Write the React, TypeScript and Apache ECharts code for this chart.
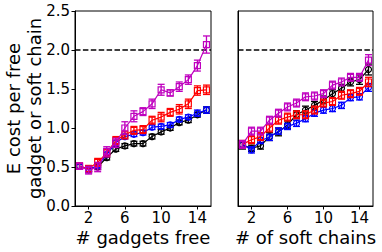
import React, { useEffect, useRef } from "react";
import * as echarts from "echarts";

const xs = [1, 2, 3, 4, 5, 6, 7, 8, 9, 10, 11, 12, 13, 14, 15];
const xTicks = [2, 6, 10, 14];

// left panel: # gadgets free
const leftBlack = [0.51, 0.47, 0.5, 0.62, 0.73, 0.77, 0.8, 0.8, 0.89, 0.95, 1.0, 1.07, 1.1, 1.17, 1.23];
const leftBlue = [0.51, 0.47, 0.52, 0.66, 0.81, 0.89, 0.92, 0.94, 1.01, 1.02, 1.04, 1.11, 1.14, 1.19, 1.23];
const leftRed = [0.51, 0.48, 0.56, 0.68, 0.84, 0.91, 0.97, 0.98, 1.1, 1.14, 1.2, 1.24, 1.31, 1.48, 1.49];
const leftMag = [0.51, 0.46, 0.5, 0.7, 0.81, 1.0, 1.15, 1.21, 1.31, 1.49, 1.45, 1.53, 1.62, 1.8, 2.07];
const leftBlackErr = [0.03, 0.03, 0.03, 0.03, 0.03, 0.03, 0.03, 0.03, 0.03, 0.03, 0.03, 0.03, 0.03, 0.03, 0.04];
const leftBlueErr = [0.03, 0.03, 0.03, 0.03, 0.03, 0.03, 0.03, 0.03, 0.03, 0.03, 0.03, 0.03, 0.03, 0.04, 0.04];
const leftRedErr = [0.04, 0.04, 0.05, 0.05, 0.05, 0.05, 0.05, 0.05, 0.05, 0.06, 0.05, 0.06, 0.06, 0.06, 0.06];
const leftMagErr = [0.04, 0.05, 0.06, 0.06, 0.06, 0.08, 0.07, 0.05, 0.06, 0.07, 0.04, 0.06, 0.06, 0.07, 0.11];

// right panel: # of soft chains
const rightBlack = [0.78, 0.74, 0.77, 0.89, 0.95, 1.04, 1.17, 1.23, 1.29, 1.36, 1.44, 1.51, 1.59, 1.62, 1.75];
const rightBlue = [0.79, 0.72, 0.84, 0.88, 0.96, 1.02, 1.06, 1.12, 1.19, 1.23, 1.25, 1.29, 1.39, 1.4, 1.52];
const rightRed = [0.79, 0.85, 0.89, 1.0, 1.1, 1.14, 1.17, 1.17, 1.23, 1.32, 1.34, 1.42, 1.44, 1.47, 1.59];
const rightMag = [0.79, 0.96, 0.96, 1.1, 1.19, 1.27, 1.32, 1.4, 1.41, 1.44, 1.55, 1.59, 1.65, 1.65, 1.87];
const rightBlackErr = [0.05, 0.04, 0.04, 0.05, 0.05, 0.05, 0.05, 0.05, 0.05, 0.05, 0.05, 0.05, 0.05, 0.06, 0.07];
const rightBlueErr = [0.04, 0.04, 0.04, 0.04, 0.04, 0.04, 0.04, 0.04, 0.04, 0.04, 0.04, 0.04, 0.04, 0.04, 0.05];
const rightRedErr = [0.05, 0.05, 0.05, 0.05, 0.05, 0.05, 0.05, 0.05, 0.05, 0.05, 0.05, 0.05, 0.05, 0.05, 0.06];
const rightMagErr = [0.05, 0.05, 0.05, 0.05, 0.05, 0.05, 0.05, 0.05, 0.05, 0.05, 0.05, 0.05, 0.05, 0.05, 0.07];

const threshold = 2.0;
const labelLeft = "# gadgets free";
const labelRight = "# of soft chains";
const yLabel = "E cost per free\ngadget or soft chain";

const BLACK = "#000000";
const BLUE = "#0000ff";
const RED = "#ff0000";
const MAG = "#bf00bf";
const FONT = "DejaVu Sans";

function lineSeries(vals: number[], color: string, symbol: string, gi: number, z: number) {
  return {
    type: "line",
    xAxisIndex: gi,
    yAxisIndex: gi,
    data: xs.map((x, i) => [x, vals[i]]),
    symbol,
    symbolSize: 6,
    showSymbol: true,
    lineStyle: { color, width: 1.2 },
    itemStyle: { color: "rgba(0,0,0,0)", borderColor: color, borderWidth: 1.2 },
    z,
    silent: true,
  };
}

function errSeries(vals: number[], errs: number[], color: string, gi: number, z: number) {
  return {
    type: "custom",
    xAxisIndex: gi,
    yAxisIndex: gi,
    data: xs.map((x, i) => [x, vals[i] - errs[i], vals[i] + errs[i]]),
    z,
    silent: true,
    renderItem: (params: any, api: any) => {
      const x = api.value(0);
      const p1 = api.coord([x, api.value(1)]);
      const p2 = api.coord([x, api.value(2)]);
      const hw = 3.5;
      const st = { stroke: color, lineWidth: 1.3 };
      return {
        type: "group",
        children: [
          { type: "line", shape: { x1: p1[0], y1: p1[1], x2: p2[0], y2: p2[1] }, style: st },
          { type: "line", shape: { x1: p1[0] - hw, y1: p1[1], x2: p1[0] + hw, y2: p1[1] }, style: st },
          { type: "line", shape: { x1: p2[0] - hw, y1: p2[1], x2: p2[0] + hw, y2: p2[1] }, style: st },
        ],
      };
    },
  };
}

function thresholdSeries(gi: number) {
  return {
    type: "line",
    xAxisIndex: gi,
    yAxisIndex: gi,
    data: [
      [0.5, threshold],
      [15.5, threshold],
    ],
    symbol: "none",
    lineStyle: { color: BLACK, width: 1.5, type: [5.5, 2.4] },
    z: 1,
    silent: true,
  };
}

export default function App() {
  const ref = useRef<HTMLDivElement>(null);
  useEffect(() => {
    if (!ref.current) return;
    const chart = echarts.init(ref.current, null, { renderer: "svg" });
    const xAxisBase = (gi: number) => ({
      type: "value",
      gridIndex: gi,
      min: 0.5,
      max: 15.5,
      axisLine: { show: true, onZero: false, lineStyle: { color: BLACK, width: 1 } },
      axisTick: {
        show: true,
        customValues: xTicks,
        length: 3.5,
        lineStyle: { color: BLACK, width: 1 },
      },
      axisLabel: {
        show: true,
        customValues: xTicks,
        color: BLACK,
        fontSize: 15,
        lineHeight: 15,
        fontFamily: FONT,
        margin: 4,
      },
      splitLine: { show: false },
    });
    const yAxisBase = (gi: number) => ({
      type: "value",
      gridIndex: gi,
      min: 0,
      max: 2.5,
      interval: 0.5,
      axisLine: { show: true, lineStyle: { color: BLACK, width: 1 } },
      axisTick: { show: gi === 0, length: 3.5, lineStyle: { color: BLACK, width: 1 } },
      axisLabel: {
        show: gi === 0,
        color: BLACK,
        fontSize: 15,
        fontFamily: FONT,
        margin: 5,
        formatter: (v: number) => v.toFixed(1),
      },
      splitLine: { show: false },
    });
    const option: any = {
      animation: false,
      backgroundColor: "#ffffff",
      grid: [
        { left: 75, top: 11, width: 136, height: 195, show: true, borderColor: BLACK, borderWidth: 1, backgroundColor: "transparent" },
        { left: 238, top: 11, width: 135, height: 195, show: true, borderColor: BLACK, borderWidth: 1, backgroundColor: "transparent" },
      ],
      xAxis: [xAxisBase(0), xAxisBase(1)],
      yAxis: [yAxisBase(0), yAxisBase(1)],
      graphic: [
        {
          type: "text",
          x: 24,
          y: 108.5,
          rotation: Math.PI / 2,
          style: {
            text: yLabel,
            fontSize: 18,
            fontFamily: FONT,
            fill: BLACK,
            align: "center",
            verticalAlign: "middle",
            lineHeight: 21,
          },
        },
        {
          type: "text",
          x: 143,
          y: 237.5,
          style: { text: labelLeft, fontSize: 18, lineHeight: 18, fontFamily: FONT, fill: BLACK, align: "center", verticalAlign: "middle" },
        },
        {
          type: "text",
          x: 305.5,
          y: 237.5,
          style: { text: labelRight, fontSize: 18, lineHeight: 18, fontFamily: FONT, fill: BLACK, align: "center", verticalAlign: "middle" },
        },
      ],
      series: [
        thresholdSeries(0),
        thresholdSeries(1),
        lineSeries(leftBlack, BLACK, "circle", 0, 2),
        errSeries(leftBlack, leftBlackErr, BLACK, 0, 3),
        lineSeries(leftBlue, BLUE, "circle", 0, 4),
        errSeries(leftBlue, leftBlueErr, BLUE, 0, 5),
        lineSeries(leftRed, RED, "rect", 0, 6),
        errSeries(leftRed, leftRedErr, RED, 0, 7),
        lineSeries(leftMag, MAG, "rect", 0, 8),
        errSeries(leftMag, leftMagErr, MAG, 0, 9),
        lineSeries(rightBlack, BLACK, "circle", 1, 2),
        errSeries(rightBlack, rightBlackErr, BLACK, 1, 3),
        lineSeries(rightBlue, BLUE, "circle", 1, 4),
        errSeries(rightBlue, rightBlueErr, BLUE, 1, 5),
        lineSeries(rightRed, RED, "rect", 1, 6),
        errSeries(rightRed, rightRedErr, RED, 1, 7),
        lineSeries(rightMag, MAG, "rect", 1, 8),
        errSeries(rightMag, rightMagErr, MAG, 1, 9),
      ],
    };
    chart.setOption(option);
    return () => chart.dispose();
  }, []);
  return <div ref={ref} style={{ width: 382, height: 252, position: "absolute", left: 0, top: 0 }} />;
}
